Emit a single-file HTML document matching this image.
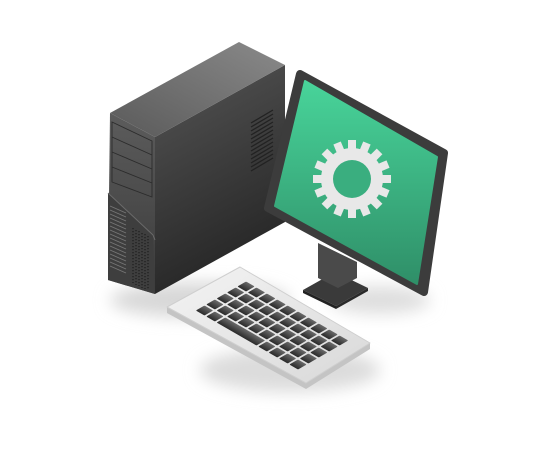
<!DOCTYPE html>
<html><head><meta charset="utf-8"><style>html,body{margin:0;padding:0;background:#fff;}svg{display:block}</style></head>
<body>
<svg width="538" height="450" viewBox="0 0 538 450" xmlns="http://www.w3.org/2000/svg">
<defs>
<filter id="blur" x="-50%" y="-50%" width="200%" height="200%"><feGaussianBlur stdDeviation="8"/></filter>
<linearGradient id="top" x1="0" y1="1" x2="1" y2="0"><stop offset="0" stop-color="#5a5a5a"/><stop offset="1" stop-color="#8a8a8a"/></linearGradient>
<linearGradient id="right" x1="0" y1="0" x2="0.3" y2="1"><stop offset="0" stop-color="#555"/><stop offset="1" stop-color="#262626"/></linearGradient>
<linearGradient id="left" x1="0" y1="0" x2="0" y2="1"><stop offset="0" stop-color="#5c5c5c"/><stop offset="1" stop-color="#3a3a3a"/></linearGradient>
<linearGradient id="scr" x1="0" y1="0" x2="0" y2="1"><stop offset="0" stop-color="#48d49a"/><stop offset="1" stop-color="#2f8f68"/></linearGradient>
<linearGradient id="kb" x1="0" y1="0" x2="1" y2="1"><stop offset="0" stop-color="#f4f4f4"/><stop offset="1" stop-color="#d8d8d8"/></linearGradient>
<linearGradient id="key" x1="0" y1="0" x2="0" y2="1"><stop offset="0" stop-color="#6a6a6a"/><stop offset="1" stop-color="#2a2a2a"/></linearGradient>
</defs>
<ellipse cx="200" cy="300" rx="90" ry="18" fill="#d8d8d8" filter="url(#blur)"/>
<ellipse cx="290" cy="370" rx="90" ry="22" fill="#dcdcdc" filter="url(#blur)"/>
<ellipse cx="380" cy="300" rx="50" ry="14" fill="#dedede" filter="url(#blur)"/>
<!-- tower -->
<polygon points="155,137 285,65 285,222 155,294" fill="url(#right)"/>
<polygon points="110,113 239,42 285,65 155,137" fill="url(#top)"/>
<polygon points="110,113 155,137 155,294 108,280" fill="url(#left)"/>
<polygon points="108,193 153,235 155,294 108,280" fill="#3e3e3e"/>
<polyline points="108,193 153,235 155,240" fill="none" stroke="#6a6a6a" stroke-width="1"/>
<g stroke="#2c2c2c" stroke-width="0.9" fill="none">
<polygon points="112,122 152,141 152,197 112,182"/>
<line x1="112" y1="137" x2="152" y2="155"/><line x1="112" y1="152" x2="152" y2="169"/><line x1="112" y1="167" x2="152" y2="183"/>
</g>
<g stroke="#222" stroke-width="1.3">
<line x1="251" y1="123" x2="273" y2="110"/><line x1="251" y1="127" x2="273" y2="114"/><line x1="251" y1="131" x2="273" y2="118"/><line x1="251" y1="135" x2="273" y2="122"/><line x1="251" y1="139" x2="273" y2="126"/><line x1="251" y1="143" x2="273" y2="130"/><line x1="251" y1="147" x2="273" y2="134"/><line x1="251" y1="151" x2="273" y2="138"/><line x1="251" y1="155" x2="273" y2="142"/><line x1="251" y1="159" x2="273" y2="146"/><line x1="251" y1="163" x2="273" y2="150"/><line x1="251" y1="167" x2="273" y2="154"/><line x1="251" y1="171" x2="273" y2="158"/>
</g>
<g stroke="#777" stroke-width="0.9">
<line x1="110" y1="206" x2="126" y2="213"/><line x1="110" y1="210" x2="126" y2="217"/><line x1="110" y1="214" x2="126" y2="221"/><line x1="110" y1="218" x2="126" y2="225"/><line x1="110" y1="222" x2="126" y2="229"/><line x1="110" y1="226" x2="126" y2="233"/><line x1="110" y1="230" x2="126" y2="237"/><line x1="110" y1="234" x2="126" y2="241"/><line x1="110" y1="238" x2="126" y2="245"/><line x1="110" y1="242" x2="126" y2="249"/><line x1="110" y1="246" x2="126" y2="253"/><line x1="110" y1="250" x2="126" y2="257"/><line x1="110" y1="254" x2="126" y2="261"/><line x1="110" y1="258" x2="126" y2="265"/><line x1="110" y1="262" x2="126" y2="269"/><line x1="110" y1="266" x2="126" y2="273"/>
</g>
<g stroke="#1e1e1e" stroke-width="1.2" stroke-dasharray="1.2 1.8">
<line x1="133" y1="228" x2="133" y2="283"/><line x1="136" y1="230" x2="136" y2="285"/><line x1="139" y1="231" x2="139" y2="286"/><line x1="142" y1="233" x2="142" y2="288"/><line x1="145" y1="234" x2="145" y2="289"/><line x1="148" y1="236" x2="148" y2="290"/>
</g>
<!-- monitor stand -->
<polygon points="303,290 336,306 368,288 335,272" fill="#3a3a3a"/>
<polygon points="303,290 336,306 336,309 303,293" fill="#222"/>
<polygon points="336,306 368,288 368,291 336,309" fill="#2a2a2a"/>
<polygon points="318,243 357,262 357,278 338,288 318,278" fill="#4a4a4a"/>
<!-- monitor -->
<polygon points="300,74 444,153 424,292 268,208" fill="#3c3c3c" stroke="#3c3c3c" stroke-width="8" stroke-linejoin="round"/>
<polygon points="305,81 437,157 417,284 275,206" fill="url(#scr)" stroke="url(#scr)" stroke-width="2" stroke-linejoin="round"/>
<g transform="translate(352,179)" fill="#e8e8e8">
<circle r="31"/>
<g id="t"><rect x="-4" y="-39" width="8" height="10"/></g>
<use href="#t" transform="rotate(22.5)"/><use href="#t" transform="rotate(45)"/><use href="#t" transform="rotate(67.5)"/><use href="#t" transform="rotate(90)"/><use href="#t" transform="rotate(112.5)"/><use href="#t" transform="rotate(135)"/><use href="#t" transform="rotate(157.5)"/><use href="#t" transform="rotate(180)"/><use href="#t" transform="rotate(202.5)"/><use href="#t" transform="rotate(225)"/><use href="#t" transform="rotate(247.5)"/><use href="#t" transform="rotate(270)"/><use href="#t" transform="rotate(292.5)"/><use href="#t" transform="rotate(315)"/><use href="#t" transform="rotate(337.5)"/>
<circle r="19" fill="#3aae7f"/>
</g>
<!-- keyboard -->
<polygon points="167,307 240,267 370,343 370,349 306,389 167,313" fill="#c4c4c4"/>
<polygon points="167,307 240,267 370,343 306,383" fill="url(#kb)" stroke="#cfcfcf" stroke-width="1" stroke-linejoin="round"/>
<g transform="matrix(0.866,0.5,-0.866,0.5,240,267)" fill="url(#key)">
<g id="r">
<rect x="18" y="11" width="10" height="10" rx="1"/><rect x="30" y="11" width="10" height="10" rx="1"/><rect x="42" y="11" width="10" height="10" rx="1"/><rect x="54" y="11" width="10" height="10" rx="1"/><rect x="66" y="11" width="10" height="10" rx="1"/><rect x="78" y="11" width="10" height="10" rx="1"/><rect x="90" y="11" width="10" height="10" rx="1"/><rect x="102" y="11" width="10" height="10" rx="1"/><rect x="114" y="11" width="10" height="10" rx="1"/><rect x="126" y="11" width="10" height="10" rx="1"/>
</g>
<use href="#r" y="12"/><use href="#r" y="24"/><use href="#r" y="36"/>
<rect x="18" y="59" width="10" height="10" rx="1"/><rect x="30" y="59" width="10" height="10" rx="1"/><rect x="42" y="59" width="46" height="10" rx="1"/><rect x="90" y="59" width="10" height="10" rx="1"/><rect x="102" y="59" width="10" height="10" rx="1"/><rect x="114" y="59" width="10" height="10" rx="1"/><rect x="126" y="59" width="10" height="10" rx="1"/>
</g>
</svg>
</body></html>
